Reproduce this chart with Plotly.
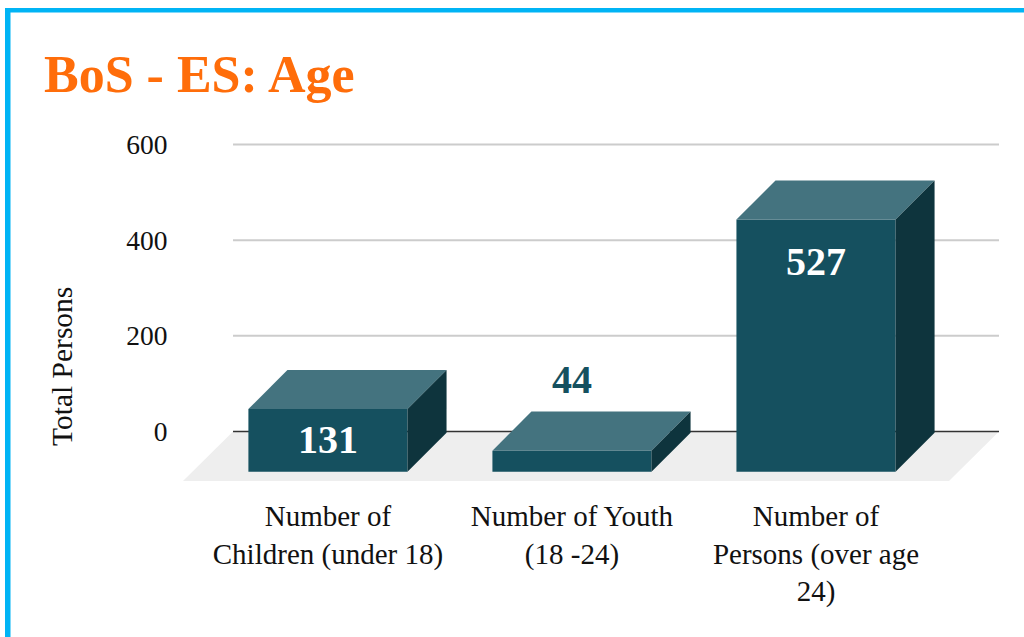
import plotly.graph_objects as go

categories = ["Number of<br>Children (under 18)", "Number of Youth<br>(18 -24)", "Number of<br>Persons (over age<br>24)"]
values = [131, 44, 527]
y_ticks = [0, 200, 400, 600]
title_text = "BoS - ES: Age"
y_title = "Total Persons"

# 3D look
FONT = "Liberation Serif"
W, H = 1024, 637
L, R, T, B = 183, 25, 142, 156      # plot area in page pixels
X_RANGE = [-0.594, 2.75]
Y_RANGE = [-103.5, 605.3]
BAR_W = 0.652
BASE = -84
DX, DY = 0.16, 81.6                 # depth of the boxes
FLOOR_DX = 0.205
WALL_X0 = -0.389
FRONT, TOP, SIDE = "#15505f", "#44737f", "#0e343d"
LABEL_SHIFT = [-30, 71, -42]
LABEL_COLOR = ["#ffffff", FRONT, "#ffffff"]

fig = go.Figure()
xs = list(range(len(values)))
fig.add_trace(go.Bar(x=xs, y=values, base=BASE, width=BAR_W, marker=dict(color=FRONT, line=dict(width=0)), hoverinfo="skip"))

for i, v in zip(xs, values):
    x0, x1, yb, yt = i - BAR_W / 2, i + BAR_W / 2, BASE, BASE + v
    fig.add_trace(go.Scatter(x=[x0, x1, x1 + DX, x0 + DX, x0], y=[yt, yt, yt + DY, yt + DY, yt],
                             mode="lines", fill="toself", fillcolor=TOP, line=dict(width=0), hoverinfo="skip"))
    fig.add_trace(go.Scatter(x=[x1, x1 + DX, x1 + DX, x1, x1], y=[yt, yt + DY, yb + DY, yb, yt],
                             mode="lines", fill="toself", fillcolor=SIDE, line=dict(width=0), hoverinfo="skip"))

shapes = [dict(type="path", layer="below", xref="x", yref="y", fillcolor="#eeeeee", line=dict(width=0),
               path=f"M {WALL_X0} 0 L {X_RANGE[1]} 0 L {X_RANGE[1]-FLOOR_DX} {Y_RANGE[0]} L {X_RANGE[0]} {Y_RANGE[0]} Z")]
for t in y_ticks:
    shapes.append(dict(type="line", layer="below", xref="x", yref="y", x0=WALL_X0, x1=X_RANGE[1], y0=t, y1=t,
                       line=dict(color="#333333" if t == 0 else "#cccccc", width=1.5 if t == 0 else 2)))
BLUE = "#00b4f5"
PW, PH = W - L - R, H - T - B
shapes.append(dict(type="rect", xref="paper", yref="paper", layer="above", line=dict(width=0), fillcolor=BLUE,
                   x0=(5 - L) / PW, x1=(W - L) / PW, y0=(H - B - 8) / PH, y1=(H - B - 12.5) / PH))
shapes.append(dict(type="rect", xref="paper", yref="paper", layer="above", line=dict(width=0), fillcolor=BLUE,
                   x0=(5 - L) / PW, x1=(10.5 - L) / PW, y0=(H - B - 8) / PH, y1=(H - B - H) / PH))

annotations = [
    dict(text=f"<b>{title_text}</b>", xref="paper", yref="paper", x=(42 - L) / PW, y=(H - B - 74) / PH,
         xanchor="left", yanchor="middle", showarrow=False, font=dict(family=FONT, size=52, color="#ff6d0a")),
    dict(text=y_title, xref="paper", yref="paper", x=(62 - L) / PW, y=(H - B - 367) / PH,
         textangle=-90, xanchor="center", yanchor="middle", showarrow=False, font=dict(family=FONT, size=29.5, color="#111111")),
]
for i, v in zip(xs, values):
    annotations.append(dict(text=f"<b>{v}</b>", x=i, y=BASE + v, yshift=LABEL_SHIFT[i], xanchor="center", yanchor="middle",
                            showarrow=False, font=dict(family=FONT, size=40, color=LABEL_COLOR[i])))

fig.update_layout(
    width=W, height=H, margin=dict(l=L, r=R, t=T, b=B, pad=0, autoexpand=False),
    paper_bgcolor="white", plot_bgcolor="rgba(0,0,0,0)", showlegend=False, barmode="overlay",
    shapes=shapes, annotations=annotations,
    xaxis=dict(range=X_RANGE, tickvals=xs, ticktext=categories, showgrid=False, zeroline=False, showline=False,
               ticks="outside", ticklen=9, tickcolor="rgba(0,0,0,0)", tickfont=dict(family=FONT, size=29, color="#111111")),
    yaxis=dict(range=Y_RANGE, tickvals=y_ticks, showgrid=False, zeroline=False, showline=False,
               ticks="outside", ticklen=9, tickcolor="rgba(0,0,0,0)", tickfont=dict(family=FONT, size=27.5, color="#111111")),
)
fig.write_html("out.html", config=dict(displayModeBar=False), post_script="document.body.style.margin='0';")
